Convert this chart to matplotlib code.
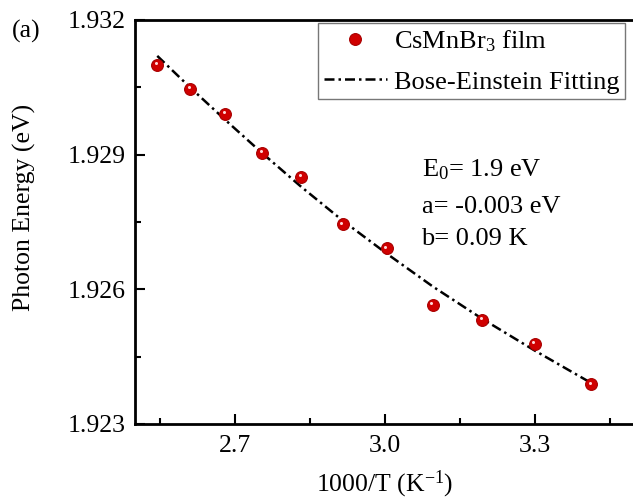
import numpy as np
import matplotlib.pyplot as plt
import matplotlib.transforms as mtransforms

plt.rcParams['font.family'] = 'Liberation Serif'
plt.rcParams['mathtext.fontset'] = 'custom'
plt.rcParams['mathtext.rm'] = 'Liberation Serif'
plt.rcParams['mathtext.it'] = 'Liberation Serif:italic'

# temperatures 293 K ... 393 K
temp = np.array([393, 383, 373, 363, 353, 343, 333, 323, 313, 303, 293])
inv_t = 1000.0 / temp

energy = [1.93100, 1.93046, 1.92991, 1.92904, 1.92850, 1.92745,
          1.92691, 1.92565, 1.92532, 1.92478, 1.92388]
fit = [1.93120, 1.93049, 1.92977, 1.92903, 1.92828, 1.92753,
       1.92680, 1.92606, 1.92534, 1.92463, 1.92391]

fs = 18.5

fig = plt.figure(figsize=(6.33, 5.0), dpi=100)
ax = fig.add_axes([135 / 633, 1 - 424 / 500, 500 / 633, 404 / 500])

ax.plot(inv_t, fit, color='k', lw=1.8, ls=(0, (4, 1.6, 1, 1.6)),
        label='Bose-Einstein Fitting', zorder=2)
ax.plot(inv_t, energy, 'o', ms=8.5, mfc='#d00000', mec='#a80000', mew=0.8,
        ls='none', label='CsMnBr$_3$ film', zorder=3)
# small highlight on the spheres
shift = mtransforms.ScaledTranslation(-1.2 / 72, 1.2 / 72, fig.dpi_scale_trans)
ax.plot(inv_t, energy, 'o', ms=2.2, mfc='#ffd8d8', mec='none', ls='none',
        transform=ax.transData + shift, zorder=4)

ax.set_xlim(2.5, 3.5)
ax.set_ylim(1.923, 1.932)
ax.set_xticks([2.7, 3.0, 3.3])
ax.set_xticks([2.55, 2.85, 3.15, 3.45], minor=True)
ax.set_yticks([1.923, 1.926, 1.929, 1.932])
ax.set_yticks([1.9245, 1.9275, 1.9305], minor=True)
ax.set_xticklabels(['2.7', '3.0', '3.3'])
ax.set_yticklabels(['1.923', '1.926', '1.929', '1.932'])

ax.tick_params(which='major', direction='in', length=7, width=1.5,
               labelsize=fs, pad=7)
ax.tick_params(which='minor', direction='in', length=4, width=1.5)
ax.tick_params(axis='x', pad=8)
for s in ['left', 'bottom', 'top']:
    ax.spines[s].set_linewidth(2)
ax.spines['right'].set_visible(False)

ax.set_xlabel('1000/T (K$^{-1}$)', fontsize=fs, labelpad=8)
ax.set_ylabel('Photon Energy (eV)', fontsize=fs)
ax.yaxis.set_label_coords(-0.197, 0.536)

leg = ax.legend(handles=[ax.lines[1], ax.lines[0]], loc='upper left',
                bbox_to_anchor=(0.366, 0.993), fontsize=19, frameon=True,
                fancybox=False, edgecolor='#555555', handlelength=2.4,
                handletextpad=0.25, borderpad=0.22, labelspacing=0.6,
                borderaxespad=0)
leg.get_frame().set_linewidth(1.0)

ax.text(0.573, 0.612, 'E$_0$= 1.9 eV', transform=ax.transAxes,
        fontsize=fs + 0.5, va='baseline')
ax.text(0.573, 0.5215, 'a= -0.003 eV', transform=ax.transAxes,
        fontsize=fs + 0.5, va='baseline')
ax.text(0.573, 0.443, 'b= 0.09 K', transform=ax.transAxes,
        fontsize=fs + 0.5, va='baseline')

fig.text(12 / 633, 1 - 38 / 500, '(a)', fontsize=fs, va='baseline')

fig.savefig('out.png', dpi=100)
